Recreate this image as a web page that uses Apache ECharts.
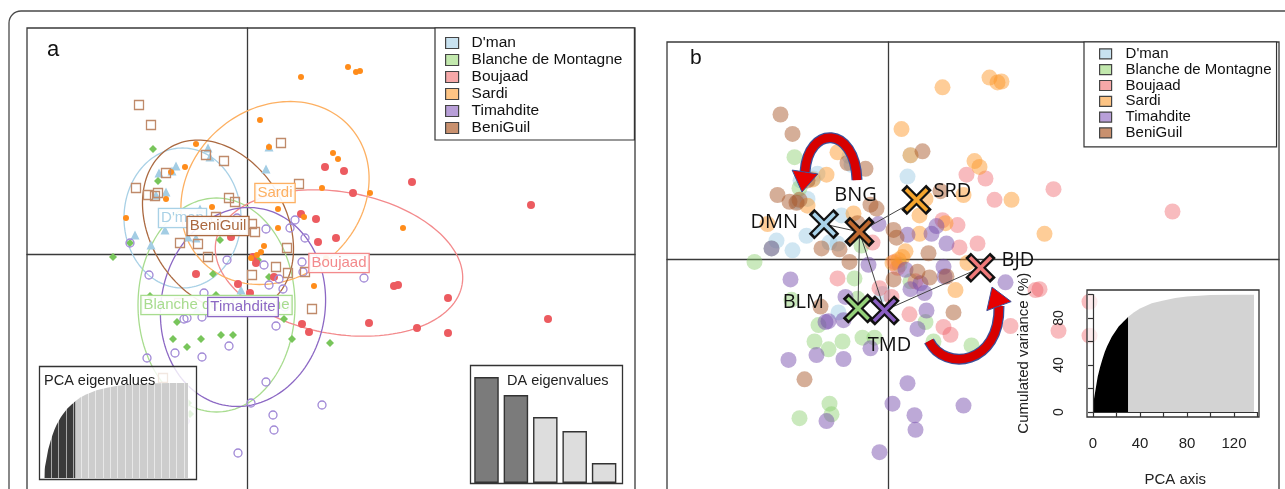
<!DOCTYPE html>
<html>
<head>
<meta charset="utf-8">
<script src="https://cdn.jsdelivr.net/npm/echarts@6/dist/echarts.min.js"></script>
<style>
  html, body { margin: 0; padding: 0; background: #fff; }
  #chart { width: 1285px; height: 489px; }
</style>
</head>
<body>
<div id="chart"></div>
<script>
// Breeds in legend order and their short codes
const groups = ["D'man", "Blanche de Montagne", "Boujaad", "Sardi", "Timahdite", "BeniGuil"];
const codes = ["DMN", "BLM", "BJD", "SRD", "TMD", "BNG"];

// Discriminant scores of the individuals (axis 1, axis 2), one list per breed
const dmanScores = [
  [-0.39, 1.06], [-0.37, 0.97], [-0.71, 0.88], [-0.75, 0.83], [-0.88, 0.81], [-0.81, 0.62],
  [-0.91, 0.59], [0.22, 1.07], [0.19, 0.85], [-0.82, 0.24], [-1.12, 0.19], [-0.51, 0.16],
  [-0.59, 0.17], [-0.96, 0.09], [-0.06, -0.36], [-0.47, 0.45], [-0.50, -0.55]
];
const blancheScores = [
  [-0.94, 1.05], [-0.89, 0.73], [-1.34, -0.03], [-0.27, 0.14], [-0.34, -0.20], [0.22, -0.23],
  [0.11, -0.06], [-0.70, -0.68], [-0.74, -0.85], [-0.60, -0.93], [-0.46, -0.85], [-0.26, -0.81],
  [-0.14, -0.81], [0.45, -0.85], [0.83, -0.89], [0.37, -0.65], [-0.97, -0.42], [-0.31, -0.41],
  [-0.89, -1.64], [-0.57, -1.60], [-0.59, -1.49], [-1.17, 0.11]
];
const boujaadScores = [
  [0.78, 0.87], [0.97, 0.83], [1.65, 0.72], [1.06, 0.61], [2.84, 0.49], [0.54, 0.40],
  [0.69, 0.35], [0.71, 0.12], [0.89, 0.16], [1.47, -0.32], [1.51, -0.31], [2.01, -0.44],
  [3.01, -0.65], [0.55, -0.70], [1.22, -0.69], [1.70, -0.74], [2.01, -0.79], [0.62, -0.78],
  [-0.16, 0.17], [-0.51, -0.20], [-0.09, -0.30], [0.03, -0.39], [0.09, -0.09], [0.27, -0.23],
  [0.06, -0.03], [0.21, -0.57]
];
const sardiScores = [
  [1.01, 1.87], [1.09, 1.82], [1.13, 1.83], [0.54, 1.77], [0.13, 1.34], [0.22, 1.07],
  [-0.51, 1.10], [-0.62, 0.87], [-0.76, 0.82], [-0.81, 0.55], [-1.21, 0.36], [0.86, 1.01],
  [0.91, 0.95], [0.75, 0.66], [1.23, 0.61], [1.56, 0.26], [-0.35, 0.47], [0.31, 0.45],
  [0.31, 0.26], [0.57, 0.37], [0.17, 0.08], [0.14, 0.02], [0.10, -0.01], [0.67, -0.32],
  [0.37, 0.62], [0.79, -0.04], [0.04, -0.04]
];
const timahditeScores = [
  [-1.17, 0.11], [-0.98, -0.21], [-0.20, -0.06], [0.17, -0.11], [0.32, -0.25], [0.22, -0.31],
  [0.36, -0.35], [0.56, -0.18], [0.55, -0.08], [-0.43, -0.39], [-0.60, -0.64], [-0.63, -0.65],
  [-0.45, -0.63], [0.29, -0.72], [0.38, -0.53], [-1.00, -1.04], [-0.72, -0.99], [-0.45, -1.03],
  [-0.18, -0.92], [0.19, -1.28], [0.04, -1.49], [0.75, -1.51], [0.26, -1.61], [0.27, -1.76],
  [-0.09, -1.99], [-0.62, -1.67], [0.19, 0.25], [0.43, 0.26], [0.48, 0.34], [0.58, 0.16],
  [1.17, -0.24], [-0.10, 0.36]
];
const beniguilScores = [
  [-1.08, 1.49], [-0.96, 1.29], [-0.41, 0.99], [-0.23, 0.93], [-0.81, 0.81], [-1.11, 0.66],
  [-0.99, 0.59], [-0.92, 0.58], [-0.89, 0.61], [-0.18, 0.56], [-0.12, 0.52], [0.34, 1.11],
  [0.52, 0.70], [-0.31, 0.37], [0.05, 0.30], [0.08, 0.22], [-0.67, 0.11], [-0.49, 0.10],
  [0.40, 0.06], [-0.39, -0.03], [0.29, -0.13], [0.05, -0.21], [0.41, -0.19], [0.58, -0.18],
  [0.65, -0.55], [-0.84, -1.24], [-0.68, -0.49]
];
const scoresByGroup = [dmanScores, blancheScores, boujaadScores, sardiScores, timahditeScores, beniguilScores];

// Breed centroids and inertia ellipses (semi-axes and orientation in degrees)
const centroids = [[-0.645, 0.36], [-0.305, -0.51], [0.92, -0.09], [0.28, 0.61], [-0.04, -0.53], [-0.29, 0.28]];
const ellipseMajor = [0.70, 1.07, 1.25, 1.00, 1.00, 0.92];
const ellipseMinor = [0.585, 0.785, 0.71, 0.85, 0.82, 0.68];
const ellipseAngle = [90, 90, -10, 40, 80, -58];

// Minimum spanning tree linking the centroids (pairs of breed indices)
const mstEdges = [[0, 5], [5, 3], [5, 1], [5, 4], [4, 2]];

// DA eigenvalues; the first ones are the retained discriminant functions
const daEigenvalues = [5.3, 4.4, 3.3, 2.6, 1.0];
const daRetained = 2;

// Cumulated variance (%) along the PCA axes: retained axes, then the remaining ones
const pcaCumRetained = [
  [0, 0], [0.4, 9], [1, 12], [2, 18], [3, 24], [4, 30], [6, 38], [8, 45], [10, 51], [12, 56],
  [14, 60], [16, 64], [18, 67], [20, 70], [22, 73], [24, 75], [26, 77], [28, 79], [30, 81]
];
const pcaCumRest = [
  [30, 81], [35, 85], [40, 88], [50, 92.5], [60, 95], [70, 97], [80, 98.2], [90, 99],
  [100, 99.5], [110, 99.8], [120, 99.9], [137, 100]
];

// Curved arrows on panel b: start, control 1, control 2, end of body, arrow tip
const arrowPaths = [
  [[-0.315, 0.814], [-0.335, 1.381], [-0.805, 1.381], [-0.835, 0.897], [-0.865, 0.691]],
  [[0.405, -0.845], [0.565, -1.165], [1.115, -1.093], [1.105, -0.485], [1.035, -0.289]]
];

// ---------- styling ----------
const FONT = '"Liberation Sans", Arial, sans-serif';
const ellipseColors = ['#a9d1e6', '#a8dc8f', '#f38a8c', '#fdb062', '#8c68c4', '#ab6940'];
const legendFill = ['#c8e2f0', '#c2e8ad', '#f6a8a8', '#fdc484', '#b89fd8', '#c8906e'];
const pointStyleA = [
  { symbol: 'triangle', size: 9, color: '#a3cde4', border: null },
  { symbol: 'diamond', size: 8, color: '#78c55b', border: null },
  { symbol: 'circle', size: 8, color: '#ec5b60', border: null },
  { symbol: 'circle', size: 6, color: '#ff8c1a', border: null },
  { symbol: 'circle', size: 8, color: 'rgba(0,0,0,0)', border: '#a088d6' },
  { symbol: 'rect', size: 9, color: 'rgba(0,0,0,0)', border: '#bf8a6a' }
];
const pointColorB = [
  'rgba(160,204,228,0.62)', 'rgba(135,205,105,0.55)', 'rgba(238,92,98,0.52)',
  'rgba(253,150,40,0.6)', 'rgba(118,76,172,0.6)', 'rgba(168,86,40,0.6)'
];
const crossColors = ['#a9d3ea', '#95d27a', '#f07a7a', '#f6a52c', '#8a5ec2', '#c0692f'];
// label placement next to each centroid cross (pixels)
const crossLabelPlacement = [
  { dx: -26, dy: -2, align: 'right' },
  { dx: -34, dy: -6, align: 'right' },
  { dx: 21, dy: -7, align: 'left' },
  { dx: 17, dy: -9, align: 'left' },
  { dx: 5, dy: 35, align: 'center' },
  { dx: -4, dy: -37, align: 'center' }
];
const ellipseLabelOrder = [1, 0, 2, 3, 5, 4];

const chart = echarts.init(document.getElementById('chart'), null, { renderer: 'canvas' });

function hiddenValueAxis(gridIndex, min, max) {
  return { type: 'value', gridIndex, min, max, show: false };
}
function crossAxis(gridIndex, min, max) {
  return {
    type: 'value', gridIndex, min, max,
    axisLine: { show: true, onZero: true, lineStyle: { color: '#3a3a3a', width: 1.3 } },
    axisTick: { show: false }, axisLabel: { show: false }, splitLine: { show: false }
  };
}

function ellipseItem(params, api) {
  const i = params.dataIndex;
  const c = centroids[i], a = ellipseMajor[i], b = ellipseMinor[i];
  const t = ellipseAngle[i] * Math.PI / 180;
  const pts = [];
  for (let k = 0; k <= 160; k++) {
    const u = k / 160 * 2 * Math.PI;
    const x = c[0] + a * Math.cos(u) * Math.cos(t) - b * Math.sin(u) * Math.sin(t);
    const y = c[1] + a * Math.cos(u) * Math.sin(t) + b * Math.sin(u) * Math.cos(t);
    pts.push(api.coord([x, y]));
  }
  return {
    type: 'polyline', silent: true, shape: { points: pts },
    style: { fill: 'none', stroke: ellipseColors[i], lineWidth: 1.3 }
  };
}

function ellipseLabelItem(params, api) {
  const i = ellipseLabelOrder[params.dataIndex];
  const p = api.coord(centroids[i]);
  return {
    type: 'text', x: p[0], y: p[1], silent: true,
    style: {
      text: groups[i], font: '15px ' + FONT, fill: ellipseColors[i],
      align: 'center', verticalAlign: 'middle', textAlign: 'center', textVerticalAlign: 'middle',
      backgroundColor: 'rgba(255,255,255,0.9)', borderColor: ellipseColors[i], borderWidth: 1.3,
      padding: [2, 2, 1, 2]
    }
  };
}

function crossItem(params, api) {
  const i = params.dataIndex;
  const p = api.coord(centroids[i]);
  const x = p[0], y = p[1];
  const seg = (h) => [
    { x1: x - h, y1: y - h, x2: x + h, y2: y + h },
    { x1: x - h, y1: y + h, x2: x + h, y2: y - h }
  ];
  const outer = seg(12.5), inner = seg(10.5);
  const pl = crossLabelPlacement[i];
  return {
    type: 'group',
    children: [
      { type: 'line', shape: outer[0], style: { stroke: '#111', lineWidth: 8, lineCap: 'butt' } },
      { type: 'line', shape: outer[1], style: { stroke: '#111', lineWidth: 8, lineCap: 'butt' } },
      { type: 'line', shape: inner[0], style: { stroke: crossColors[i], lineWidth: 3.6, lineCap: 'butt' } },
      { type: 'line', shape: inner[1], style: { stroke: crossColors[i], lineWidth: 3.6, lineCap: 'butt' } },
      {
        type: 'text', x: x + pl.dx, y: y + pl.dy,
        style: {
          text: codes[i], font: '20px "Open Sans", sans-serif', fill: '#111',
          align: pl.align, verticalAlign: 'middle', textAlign: pl.align, textVerticalAlign: 'middle'
        }
      }
    ]
  };
}

function arrowItem(params, api) {
  const p = arrowPaths[params.dataIndex].map(q => api.coord(q));
  const s = p[0], c1 = p[1], c2 = p[2], e = p[3], tip = p[4];
  const dx = tip[0] - e[0], dy = tip[1] - e[1];
  const len = Math.hypot(dx, dy);
  const nx = -dy / len, ny = dx / len;
  const hw = 13;
  const head = [[e[0] + nx * hw, e[1] + ny * hw], tip, [e[0] - nx * hw, e[1] - ny * hw]];
  const curve = { x1: s[0], y1: s[1], cpx1: c1[0], cpy1: c1[1], cpx2: c2[0], cpy2: c2[1], x2: e[0], y2: e[1] };
  return {
    type: 'group',
    children: [
      { type: 'bezierCurve', shape: curve, style: { fill: 'none', stroke: '#3a4f9a', lineWidth: 11 } },
      { type: 'bezierCurve', shape: curve, style: { fill: 'none', stroke: '#d80000', lineWidth: 8.5 } },
      { type: 'polygon', shape: { points: head }, style: { fill: '#e60000', stroke: '#3a4f9a', lineWidth: 1 } }
    ]
  };
}

const series = [];

// Panel a: individuals
groups.forEach((g, i) => {
  const st = pointStyleA[i];
  series.push({
    type: 'scatter', name: g, xAxisIndex: 0, yAxisIndex: 0, z: 2,
    data: scoresByGroup[i], symbol: st.symbol, symbolSize: st.size,
    itemStyle: st.border
      ? { color: st.color, borderColor: st.border, borderWidth: 1.3, opacity: 1 }
      : { color: st.color, opacity: 1 }
  });
});
// Panel a: inertia ellipses
series.push({
  type: 'custom', xAxisIndex: 0, yAxisIndex: 0, z: 2, silent: true,
  data: centroids, renderItem: ellipseItem
});
// Panel a: boxed breed names at the centroids
series.push({
  type: 'custom', xAxisIndex: 0, yAxisIndex: 0, z: 3, silent: true,
  data: ellipseLabelOrder.map(i => centroids[i]), renderItem: ellipseLabelItem
});
// Panel a inset: PCA eigenvalues (cumulated)
series.push({
  type: 'line', xAxisIndex: 1, yAxisIndex: 1, z: 4, silent: true, showSymbol: false,
  data: pcaCumRetained, lineStyle: { width: 0 }, areaStyle: { color: '#3a3a3a', opacity: 1 }
});
series.push({
  type: 'line', xAxisIndex: 1, yAxisIndex: 1, z: 4, silent: true, showSymbol: false,
  data: pcaCumRest, lineStyle: { width: 0 }, areaStyle: { color: '#cdcdcd', opacity: 1 }
});
// Panel a inset: DA eigenvalues
series.push({
  type: 'bar', xAxisIndex: 2, yAxisIndex: 2, z: 4, silent: true, barWidth: 24.5,
  itemStyle: { borderColor: '#333', borderWidth: 1.4 },
  data: daEigenvalues.map((v, i) => ({ value: v, itemStyle: { color: i < daRetained ? '#7b7b7b' : '#dddddd' } }))
});

// Panel b: individuals
groups.forEach((g, i) => {
  series.push({
    type: 'scatter', name: g, xAxisIndex: 3, yAxisIndex: 3, z: 2,
    data: scoresByGroup[i], symbol: 'circle', symbolSize: 16,
    itemStyle: { color: pointColorB[i] }
  });
});
// Panel b: minimum spanning tree between centroids
series.push({
  type: 'lines', coordinateSystem: 'cartesian2d', xAxisIndex: 3, yAxisIndex: 3, z: 3, silent: true,
  lineStyle: { color: '#444', width: 1, opacity: 1 },
  data: mstEdges.map(([a, b]) => ({ coords: [centroids[a], centroids[b]] }))
});
// Panel b: curved arrows
series.push({
  type: 'custom', xAxisIndex: 3, yAxisIndex: 3, z: 3, silent: true,
  data: arrowPaths.map(p => p[0]), renderItem: arrowItem
});
// Panel b: centroid crosses with codes
series.push({
  type: 'custom', xAxisIndex: 3, yAxisIndex: 3, z: 5, silent: true,
  data: centroids, renderItem: crossItem
});
// Panel b inset: cumulated variance
series.push({
  type: 'line', xAxisIndex: 4, yAxisIndex: 4, z: 4, silent: true, showSymbol: false,
  data: pcaCumRetained, lineStyle: { width: 0 }, areaStyle: { color: '#000', opacity: 1 }
});
series.push({
  type: 'line', xAxisIndex: 4, yAxisIndex: 4, z: 4, silent: true, showSymbol: false,
  data: pcaCumRest, lineStyle: { width: 0 }, areaStyle: { color: '#d3d3d3', opacity: 1 }
});

function legendFor(left, top, padding, itemW, itemH, fontSize, lineHeight, textPad) {
  return {
    left, top, orient: 'vertical', padding, itemWidth: itemW, itemHeight: itemH, itemGap: 0,
    borderColor: '#333', borderWidth: 1.2, backgroundColor: '#fff', icon: 'rect',
    selectedMode: false, z: 6,
    itemStyle: { borderColor: '#444', borderWidth: 1.2 },
    textStyle: { fontSize, lineHeight, color: '#111', fontFamily: FONT, padding: [0, 0, 0, textPad] },
    data: groups.map((g, i) => ({ name: g, itemStyle: { color: legendFill[i] } }))
  };
}

const option = {
  animation: false,
  backgroundColor: '#fff',
  textStyle: { fontFamily: FONT },
  grid: [
    { left: 27, top: 28, width: 608, height: 480, show: true, borderColor: '#3a3a3a', borderWidth: 1.3, backgroundColor: 'transparent', outerBoundsMode: 'none', containLabel: false },
    { left: 44, top: 383, width: 144, height: 95, outerBoundsMode: 'none', containLabel: false },
    { left: 471.8, top: 372, width: 147, height: 111, outerBoundsMode: 'none', containLabel: false },
    { left: 667, top: 42, width: 612, height: 480, show: true, borderColor: '#3a3a3a', borderWidth: 1.3, backgroundColor: 'transparent', outerBoundsMode: 'none', containLabel: false },
    { left: 1093, top: 294.5, width: 164.5, height: 117.5, outerBoundsMode: 'none', containLabel: false }
  ],
  xAxis: [
    crossAxis(0, -2.2, 3.88),
    {
      type: 'value', gridIndex: 1, min: 0, max: 137, interval: 7, z: 6,
      axisLine: { show: false }, axisTick: { show: false }, axisLabel: { show: false },
      splitLine: { show: true, lineStyle: { color: 'rgba(255,255,255,0.55)', width: 1 } }
    },
    { type: 'category', gridIndex: 2, data: ['1', '2', '3', '4', '5'], show: false },
    crossAxis(3, -2.215, 3.905),
    {
      type: 'value', gridIndex: 4, min: 0, max: 140, interval: 20, offset: 9, z: 5,
      name: 'PCA axis', nameLocation: 'middle', nameGap: 51,
      nameTextStyle: { fontSize: 15, color: '#222', fontFamily: FONT },
      axisLine: { show: true, lineStyle: { color: '#333', width: 1.2 } },
      axisTick: { show: true, length: 5, lineStyle: { color: '#333', width: 1.2 } },
      axisLabel: { margin: 15, fontSize: 15, color: '#222', formatter: v => (v % 40 === 0 ? String(v) : '') },
      splitLine: { show: false }
    }
  ],
  yAxis: [
    crossAxis(0, -2.54, 2.26),
    hiddenValueAxis(1, 0, 100),
    hiddenValueAxis(2, 0, 5.55),
    crossAxis(3, -2.71, 2.237),
    {
      type: 'value', gridIndex: 4, min: 0, max: 100, interval: 20, offset: 10, z: 5,
      name: 'Cumulated variance (%)', nameLocation: 'middle', nameGap: 52,
      nameTextStyle: { fontSize: 15, color: '#222', fontFamily: FONT },
      axisLine: { show: true, lineStyle: { color: '#333', width: 1.2 } },
      axisTick: { show: true, length: 5, lineStyle: { color: '#333', width: 1.2 } },
      axisLabel: { margin: 17, fontSize: 14, color: '#222', rotate: 90, formatter: v => (v % 40 === 0 ? String(v) : '') },
      splitLine: { show: false }
    }
  ],
  legend: [
    legendFor(435, 28, [6.5, 12, 3.5, 10], 13, 11, 15.5, 17, 8),
    legendFor(1084, 42, [4, 5, 6, 15], 12, 10, 15, 15.8, 9)
  ],
  graphic: [
    { type: 'rect', silent: true, z: 0, shape: { x: 9, y: 11, width: 1400, height: 600, r: 12 }, style: { fill: 'none', stroke: '#4a4a4a', lineWidth: 1.3 } },
    { type: 'rect', silent: true, z: 3, shape: { x: 39.5, y: 366.5, width: 157, height: 113 }, style: { fill: 'rgba(255,255,255,0.8)', stroke: '#333', lineWidth: 1.3 } },
    { type: 'rect', silent: true, z: 3, shape: { x: 470.5, y: 365.5, width: 152, height: 118 }, style: { fill: 'rgba(255,255,255,0.85)', stroke: '#333', lineWidth: 1.3 } },
    { type: 'rect', silent: true, z: 3, shape: { x: 1087, y: 290, width: 172, height: 127 }, style: { fill: 'rgba(255,255,255,0.7)', stroke: '#333', lineWidth: 1.3 } },
    { type: 'text', silent: true, z: 7, x: 47, y: 50, style: { text: 'a', font: '22px ' + FONT, fill: '#111', verticalAlign: 'middle' } },
    { type: 'text', silent: true, z: 7, x: 690, y: 58, style: { text: 'b', font: '21px ' + FONT, fill: '#111', verticalAlign: 'middle' } },
    { type: 'text', silent: true, z: 7, x: 44, y: 381, style: { text: 'PCA eigenvalues', font: '14.5px ' + FONT, fill: '#222', verticalAlign: 'middle' } },
    { type: 'text', silent: true, z: 7, x: 507, y: 381, style: { text: 'DA eigenvalues', font: '14.5px ' + FONT, fill: '#222', verticalAlign: 'middle' } }
  ],
  series
};

chart.setOption(option);
</script>
</body>
</html>
